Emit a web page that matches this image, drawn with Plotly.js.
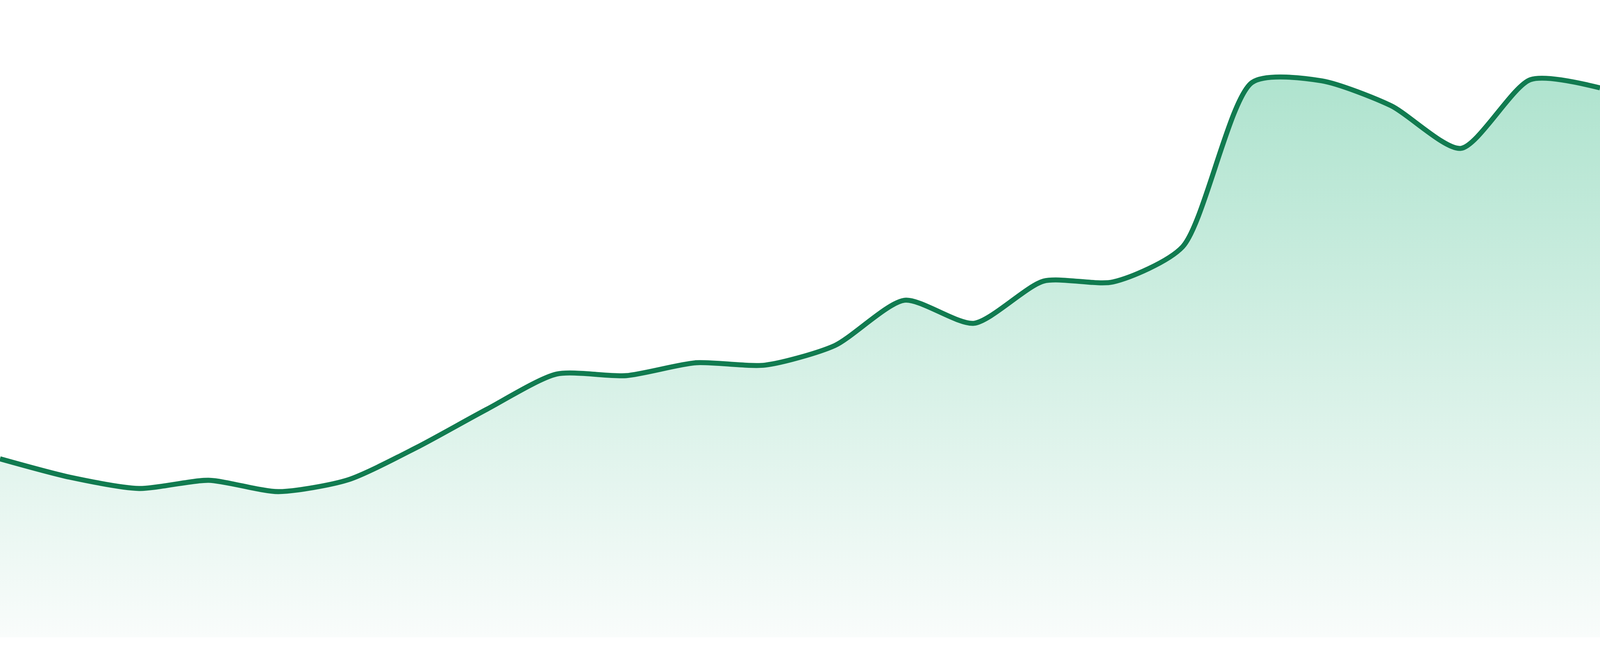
<!DOCTYPE html>
<html>
<head>
<meta charset="utf-8">
<script src="https://cdn.plot.ly/plotly-3.0.1.min.js"></script>
<style>
  html, body { margin: 0; padding: 0; background: #fff; overflow: hidden; }
  #chart { width: 100vw; height: 100vh; }
</style>
</head>
<body>
<div id="chart"></div>
<script>
// one point per day, evenly spaced
const days = [
  "D1", "D2", "D3", "D4", "D5", "D6", "D7", "D8", "D9", "D10", "D11", "D12",
  "D13", "D14", "D15", "D16", "D17", "D18", "D19", "D20", "D21", "D22", "D23", "D24"
];
const values = [
  45.7, 41.0, 38.1, 40.2, 37.3, 40.3, 48.7, 58.4, 67.4, 67.0, 70.3, 69.7,
  74.7, 86.3, 80.4, 91.2, 91.0, 100.0, 142.1, 142.5, 136.1, 125.2, 142.8, 140.7
];

const yTop = 163.2;

// the page may not be exactly 4800x1680 css px, so size things relative to it
const W = window.innerWidth || 4800;
const H = window.innerHeight || 1680;
const s = W / 4800;

const area = {
  type: "scatter",
  mode: "lines",
  x: days.map((d, i) => i),
  y: values,
  text: days,
  fill: "tozeroy",
  fillgradient: {
    type: "vertical",
    start: 0,
    stop: 145,
    colorscale: [[0, "#f9fcfb"], [1, "#aee3ce"]]
  },
  line: { color: "#117b50", width: 15 * s, shape: "spline", smoothing: 0.7 },
  hoverinfo: "text+y"
};

const layout = {
  width: W,
  height: H,
  margin: { l: 0, r: 0, t: 0, b: Math.round(H * 48 / 1680), pad: 0 },
  paper_bgcolor: "#ffffff",
  plot_bgcolor: "#ffffff",
  showlegend: false,
  xaxis: {
    range: [0, days.length - 1],
    visible: false,
    showgrid: false,
    zeroline: false,
    fixedrange: true
  },
  yaxis: {
    range: [0, yTop],
    visible: false,
    showgrid: false,
    zeroline: false,
    fixedrange: true
  }
};

Plotly.newPlot("chart", [area], layout, { displayModeBar: false, staticPlot: true });
</script>
</body>
</html>
